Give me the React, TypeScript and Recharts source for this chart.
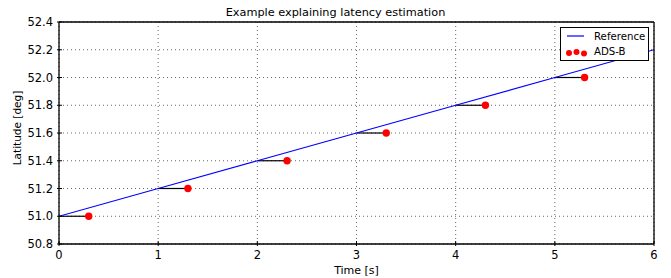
import {
  ComposedChart, Line, Scatter, XAxis, YAxis, CartesianGrid, ReferenceLine,
} from "recharts";

// reference track (blue line)
const refTime = [0, 1, 2, 3, 4, 5, 6];
const refLat = [51.0, 51.2, 51.4, 51.6, 51.8, 52.0, 52.2];

// ADS-B reports (red dots), arriving 0.3 s late
const adsbTime = [0.3, 1.3, 2.3, 3.3, 4.3, 5.3];
const adsbLat = [51.0, 51.2, 51.4, 51.6, 51.8, 52.0];
// true time of each report (start of the black latency segment)
const trueTime = [0, 1, 2, 3, 4, 5];

const xTicks = [0, 1, 2, 3, 4, 5, 6];
const yTicks = [50.8, 51.0, 51.2, 51.4, 51.6, 51.8, 52.0, 52.2, 52.4];

const FONT = "'DejaVu Sans', sans-serif";
const W = 671;
const H = 278;

const refData = refTime.map((t, i) => ({ t, lat: refLat[i] }));
const adsbData = adsbTime.map((t, i) => ({ t, lat: adsbLat[i] }));

function XTick(props: any) {
  const { x, y, payload, orientation } = props;
  if (orientation === "top") {
    return <line x1={x} x2={x} y1={y} y2={y + 5} stroke="#000" />;
  }
  return (
    <g>
      <line x1={x} x2={x} y1={y} y2={y - 5} stroke="#000" />
      <text x={x} y={y + 13} textAnchor="middle" fontSize={11.5} fontFamily={FONT} fill="#000">
        {payload.value}
      </text>
    </g>
  );
}

function YTick(props: any) {
  const { x, y, payload, orientation } = props;
  if (orientation === "right") {
    return <line x1={x} x2={x - 5} y1={y} y2={y} stroke="#000" />;
  }
  return (
    <g>
      <line x1={x} x2={x + 5} y1={y} y2={y} stroke="#000" />
      <text x={x - 4} y={y + 4} textAnchor="end" fontSize={11.5} fontFamily={FONT} fill="#000">
        {payload.value.toFixed(1)}
      </text>
    </g>
  );
}

export default function App() {
  return (
    <div style={{ position: "absolute", left: 0, top: 0, width: W, height: H, background: "#fff" }}>
      <ComposedChart
        width={W}
        height={H}
        margin={{ top: 21, right: 16, left: 0, bottom: 0 }}
      >
        <CartesianGrid
          xAxisId="b"
          yAxisId="l"
          stroke="#000"
          strokeOpacity={0.6}
          strokeDasharray="1 3"
          horizontalValues={yTicks}
          verticalValues={xTicks}
        />
        <XAxis
          xAxisId="b"
          type="number"
          dataKey="t"
          domain={[0, 6]}
          ticks={xTicks}
          height={34}
          tickSize={0}
          axisLine={{ stroke: "#000", strokeWidth: 1.3 }}
          tick={<XTick />}
          allowDataOverflow
        />
        <XAxis
          xAxisId="t"
          orientation="top"
          type="number"
          dataKey="t"
          domain={[0, 6]}
          ticks={xTicks}
          height={1}
          tickSize={0}
          axisLine={{ stroke: "#000", strokeWidth: 1.3 }}
          tick={<XTick orientation="top" />}
        />
        <YAxis
          yAxisId="l"
          type="number"
          domain={[50.8, 52.4]}
          ticks={yTicks}
          width={59}
          tickSize={0}
          axisLine={{ stroke: "#000", strokeWidth: 1.3 }}
          tick={<YTick />}
          allowDataOverflow
        />
        <YAxis
          yAxisId="r"
          orientation="right"
          type="number"
          domain={[50.8, 52.4]}
          ticks={yTicks}
          width={1}
          tickSize={0}
          axisLine={{ stroke: "#000", strokeWidth: 1.3 }}
          tick={<YTick orientation="right" />}
        />
        {trueTime.map((t, i) => (
          <ReferenceLine
            key={i}
            xAxisId="b"
            yAxisId="l"
            segment={[{ x: t, y: adsbLat[i] }, { x: adsbTime[i], y: adsbLat[i] }]}
            stroke="#000"
            strokeWidth={1.2}
          />
        ))}
        <Line
          xAxisId="b"
          yAxisId="l"
          data={refData}
          dataKey="lat"
          type="linear"
          stroke="#0000ff"
          strokeWidth={1.2}
          dot={false}
          isAnimationActive={false}
        />
        <Scatter
          xAxisId="b"
          yAxisId="l"
          data={adsbData}
          dataKey="lat"
          fill="#ff0000"
          shape={(p: any) => <circle cx={p.cx} cy={p.cy} r={3.7} fill="#ff0000" />}
          isAnimationActive={false}
        />
      </ComposedChart>
      <div
        style={{
          position: "absolute", left: 0, top: 6, width: W, textAlign: "center",
          fontFamily: FONT, fontSize: 11.3, lineHeight: "14px",
        }}
      >
        Example explaining latency estimation
      </div>
      <div
        style={{
          position: "absolute", left: 59, top: 264, width: 595, textAlign: "center",
          fontFamily: FONT, fontSize: 11, lineHeight: "14px",
        }}
      >
        Time [s]
      </div>
      <div
        style={{
          position: "absolute", left: 17, top: 128, width: 0, height: 0,
        }}
      >
        <div
          style={{
            position: "absolute", transform: "translate(-50%, -50%) rotate(-90deg)",
            whiteSpace: "nowrap", fontFamily: FONT, fontSize: 10.5, lineHeight: "14px",
          }}
        >
          Latitude [deg]
        </div>
      </div>
      <div
        style={{
          position: "absolute", left: 560, top: 27, width: 89, height: 34,
          border: "1px solid #000", boxSizing: "border-box", background: "#fff",
        }}
      >
        <svg width={87} height={32} style={{ position: "absolute", left: 0, top: 0 }}>
          <line x1={6} x2={23} y1={8} y2={8} stroke="#0000ff" strokeWidth={1.2} />
          <circle cx={8} cy={25} r={3} fill="#ff0000" />
          <circle cx={15.5} cy={24} r={3} fill="#ff0000" />
          <circle cx={23} cy={25.5} r={3} fill="#ff0000" />
          <text x={33} y={12} fontSize={10.2} fontFamily={FONT}>Reference</text>
          <text x={33} y={27} fontSize={10.2} fontFamily={FONT}>ADS-B</text>
        </svg>
      </div>
    </div>
  );
}
